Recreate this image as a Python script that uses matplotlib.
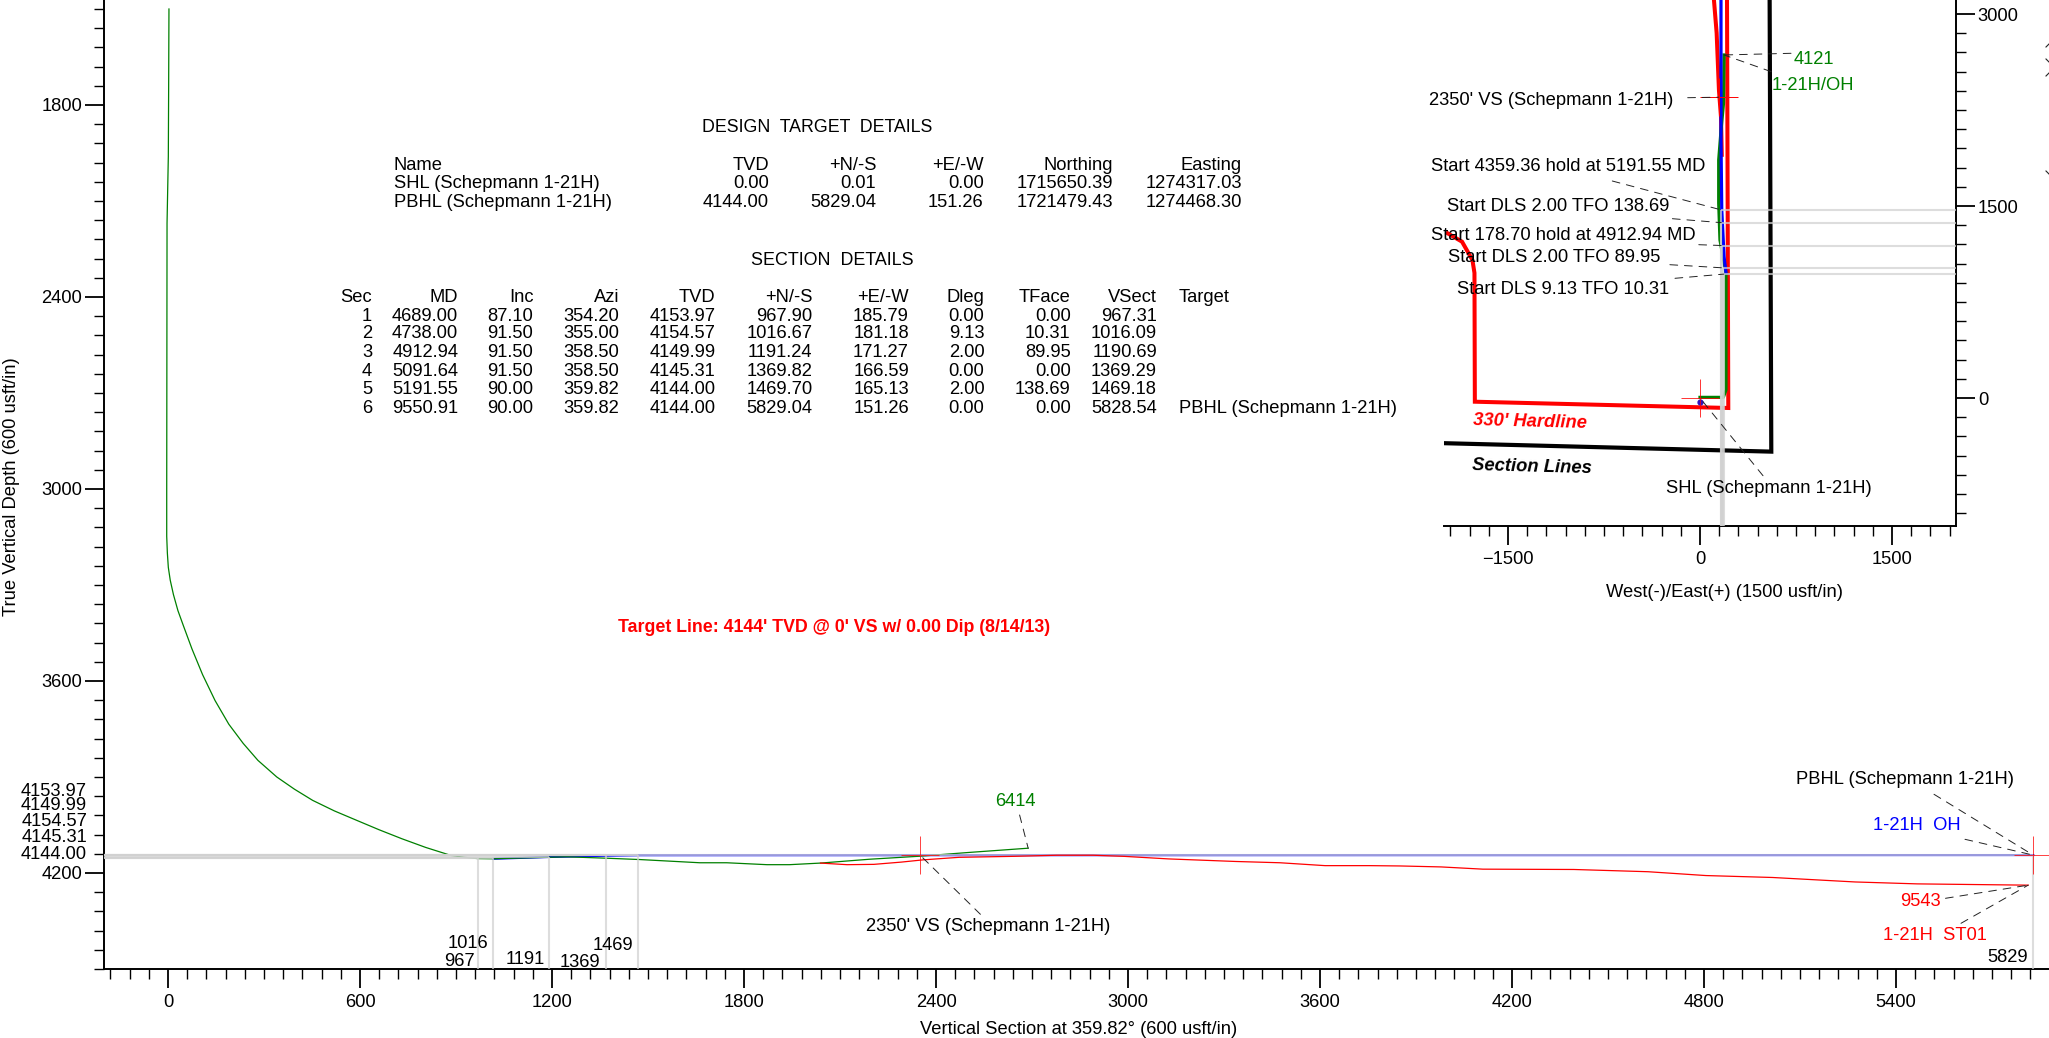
"""
  Well plan plot: vertical section with a plan view inset.
"""
import matplotlib
matplotlib.use("Agg")
import matplotlib.pyplot as plt
from matplotlib.ticker import MultipleLocator

plt.rcParams['font.family'] = ['Liberation Sans', 'DejaVu Sans']

W, H = 2049, 1038
FS = 13.2

# design targets
tgt_names = ["SHL (Schepmann 1-21H)", "PBHL (Schepmann 1-21H)"]
tgt_tvd = [0.00, 4144.00]
tgt_ns = [0.01, 5829.04]
tgt_ew = [0.00, 151.26]
tgt_north = [1715650.39, 1721479.43]
tgt_east = [1274317.03, 1274468.30]

# section table
sec_no = [1, 2, 3, 4, 5, 6]
sec_md = [4689.00, 4738.00, 4912.94, 5091.64, 5191.55, 9550.91]
sec_inc = [87.10, 91.50, 91.50, 91.50, 90.00, 90.00]
sec_azi = [354.20, 355.00, 358.50, 358.50, 359.82, 359.82]
sec_tvd = [4153.97, 4154.57, 4149.99, 4145.31, 4144.00, 4144.00]
sec_ns = [967.90, 1016.67, 1191.24, 1369.82, 1469.70, 5829.04]
sec_ew = [185.79, 181.18, 171.27, 166.59, 165.13, 151.26]
sec_dleg = [0.00, 9.13, 2.00, 0.00, 2.00, 0.00]
sec_tface = [0.00, 10.31, 89.95, 0.00, 138.69, 0.00]
sec_vsect = [967.31, 1016.09, 1190.69, 1369.29, 1469.18, 5828.54]

# vertical section curves
green_vs = [3, 2, 1, -3, -4, -4, -2, 1, 7, 17, 31, 48, 75, 108, 147, 190, 235, 281, 340, 395,
            452, 520, 591, 660, 731, 805, 884, 925, 968, 1016,
            1194, 1247, 1371, 1475, 1662, 1746, 1872, 1942, 2039, 2192, 2350, 2500, 2688]
green_tvd = [1500, 1750, 1961, 2170, 3008, 3148, 3200, 3245, 3285, 3330, 3380, 3427, 3500, 3580,
             3661, 3735, 3795, 3848, 3900, 3938, 3973, 4006, 4036, 4065, 4093, 4120, 4145,
             4151, 4155, 4155.6, 4150.6, 4149.4, 4153.8, 4158, 4168, 4168, 4174,
             4174, 4169, 4157, 4147.5, 4136, 4122.5]
red_vs = [2039, 2122, 2206, 2291, 2359, 2472, 2639, 2778, 2891, 2988, 3127, 3337, 3475,
          3616, 3755, 3850, 3978, 4109, 4393, 4625, 4806, 5014, 5272, 5466, 5813]
red_tvd = [4169, 4174, 4173, 4166, 4159, 4151, 4148, 4144.5, 4144.5, 4148, 4156, 4164,
           4168, 4177, 4177, 4178, 4181, 4188, 4189, 4196, 4208, 4214, 4228, 4234, 4238]
blue_vs = [1016, 1194, 1247, 1371, 1475, 5829]
blue_tvd = [4155.6, 4150, 4149, 4146, 4144.5, 4144]

# plan view curves
plan_green_e = [0, 182, 203, 203, 203, 156, 146, 146, 165, 184, 188]
plan_green_n = [5, 5, 62, 922, 977, 1234, 1523, 1859, 2100, 2305, 2680]
plan_blue_e = [164, 164, 170, 188, 203]
plan_blue_n = [3109, 2016, 1469, 1104, 977]
plan_red_e = [109, 130, 148, 164, 170]
plan_red_n = [3109, 2852, 2406, 2195, 1900]
hard_e = [-1972, -1859, -1778, -1762, -1759, 221, 211]
hard_n = [1287, 1221, 1078, 977, -29, -78, 3125]
lines_e = [-2000, 557, 544]
lines_n = [-353, -419, 3125]


def txt(x, y, s, ha='center', **kw):
  kw.setdefault('fontsize', FS)
  return fig.text(x / W, 1 - y / H, s, ha=ha, va='center', **kw)


def leader(ax, xy, px, py):
  ax.annotate('', xy=xy, xycoords='data', xytext=(px, H - py), textcoords='figure pixels',
              annotation_clip=False, zorder=6,
              arrowprops=dict(arrowstyle='-', lw=0.7, color='#222222', linestyle=(0, (8, 7)),
                              shrinkA=0, shrinkB=0))


def axis_style(ax):
  ax.tick_params(which='major', length=13.7, width=1.3, labelsize=FS)
  ax.tick_params(which='minor', length=7.2, width=1.0)


fig = plt.figure(figsize=(W / 100, H / 100), dpi=100)
GRAY = dict(color='#d1d1d1', alpha=0.73, lw=1.5, solid_capstyle='butt', zorder=4)

# ---------- vertical section ----------
ax = fig.add_axes([104 / W, (H - 969) / H, (W - 104) / W, 969 / H])
ax.set_xlim(-200, 5878.1)
ax.set_ylim(4500, 1471.9)
for side in ['top', 'right']:
  ax.spines[side].set_visible(False)
for side in ['left', 'bottom']:
  ax.spines[side].set_linewidth(1.4)
ax.xaxis.set_major_locator(MultipleLocator(600))
ax.xaxis.set_minor_locator(MultipleLocator(60))
ax.yaxis.set_major_locator(MultipleLocator(600))
ax.yaxis.set_minor_locator(MultipleLocator(60))
axis_style(ax)
ax.tick_params(axis='x', which='major', pad=4.5)
ax.tick_params(axis='y', which='major', pad=2)

ax.plot(blue_vs, blue_tvd, color='#0000ff', lw=1.5, zorder=2)
ax.plot(green_vs, green_tvd, color='#008000', lw=0.9, zorder=3)
ax.plot(red_vs, red_tvd, color='#ff0000', lw=0.9, zorder=5)
for v, t in zip(sec_vsect, sec_tvd):
  ax.plot([-200, v], [t, t], **GRAY)
  ax.plot([v, v], [t, 4500], **GRAY)
for p in [2350, 5828.54]:
  ax.plot(p, 4144, marker='+', ms=27, mew=0.7, color='#ff0000', alpha=0.75, zorder=5,
          clip_on=False)

leader(ax, (2350, 4144), 980.4, 914.3)
leader(ax, (green_vs[-1], green_tvd[-1]), 1019.6, 815)
leader(ax, (5828.54, 4144), 1934, 794.3)
leader(ax, (5828.54, 4144), 1965, 839.3)
leader(ax, (red_vs[-1], red_tvd[-1]), 1945.5, 898.3)
leader(ax, (red_vs[-1], red_tvd[-1]), 1961, 923.3)

# ---------- plan view ----------
inset = fig.add_axes([1444 / W, (H - 526) / H, 512 / W, 526 / H], facecolor='none', zorder=3)
inset.set_xlim(-2000, 2000)
inset.set_ylim(-1000, 3109.4)
for side in ['top', 'left']:
  inset.spines[side].set_visible(False)
for side in ['right', 'bottom']:
  inset.spines[side].set_linewidth(1.4)
inset.yaxis.tick_right()
inset.xaxis.set_major_locator(MultipleLocator(1500))
inset.xaxis.set_minor_locator(MultipleLocator(150))
inset.yaxis.set_major_locator(MultipleLocator(1500))
inset.yaxis.set_minor_locator(MultipleLocator(150))
axis_style(inset)
inset.tick_params(axis='x', which='major', pad=4.5)
inset.tick_params(axis='y', which='major', pad=2)

inset.plot(lines_e, lines_n, color='black', lw=3.0, solid_joinstyle='miter', zorder=2)
inset.plot(hard_e, hard_n, color='#ff0000', lw=2.9, solid_joinstyle='miter', zorder=2)
inset.plot(plan_red_e, plan_red_n, color='#ff0000', lw=2.9, zorder=2)
inset.plot(plan_green_e, plan_green_n, color='#008000', lw=2.3, zorder=3)
inset.plot(plan_blue_e, plan_blue_n, color='#0000ff', lw=2.3, zorder=3)
inset.plot(0, -28, marker='o', ms=3.5, color='#3010c0', zorder=3)
for e, n in zip(sec_ew[:5], sec_ns[:5]):
  inset.plot([e, 2000], [n, n], **GRAY)
  inset.plot([e, e], [n, -1000], **GRAY)
inset.plot(0, 0, marker='+', ms=27, mew=0.7, color='#ff0000', alpha=0.8, zorder=5)
inset.plot(146, 2350, marker='+', ms=27, mew=0.7, color='#ff0000', zorder=5)

leader(inset, (plan_green_e[-1], plan_green_n[-1]), 1791, 53.3)
leader(inset, (plan_green_e[-1], plan_green_n[-1]), 1771.3, 71.7)
leader(inset, (146, 2350), 1687.7, 97.7)
leader(inset, (sec_ew[4], sec_ns[4]), 1612.3, 181)
leader(inset, (sec_ew[3], sec_ns[3]), 1672.4, 218.7)
leader(inset, (sec_ew[2], sec_ns[2]), 1698.8, 244.7)
leader(inset, (sec_ew[1], sec_ns[1]), 1669.9, 264.7)
leader(inset, (sec_ew[0], sec_ns[0]), 1675, 278.3)
leader(inset, (0, 0), 1763, 475.7)

# ends of callouts cut off at the right edge
for x0, y0, x1, y1 in [(2046, 47, 2049, 44), (2046, 59, 2049, 62),
                       (2046, 76, 2049, 73), (2046, 171, 2049, 174)]:
  fig.add_artist(plt.Line2D([x0 / W, x1 / W], [1 - y0 / H, 1 - y1 / H], color='#222222', lw=0.8))

# ---------- axis labels and callouts ----------
txt(1079, 1029, "Vertical Section at 359.82° (600 usft/in)")
txt(12, 487, "True Vertical Depth (600 usft/in)", rotation=90)
txt(1724, 592.5, "West(-)/East(+) (1500 usft/in)")

for y, s in zip([791.7, 805, 821.7, 837.7, 854.3],
                ["4153.97", "4149.99", "4154.57", "4145.31", "4144.00"]):
  txt(87, y, s, ha='right')

for x, y, s in zip([467.9, 459.8, 525, 580.4, 612.5], [944, 961.3, 959, 962.3, 945],
                   ["1016", "967", "1191", "1369", "1469"]):
  txt(x, y, s)
txt(2028, 958, "5829", ha='right')

txt(1796, 779, "PBHL (Schepmann 1-21H)", ha='left')
txt(1917, 825.7, "1-21H  OH", color='#0000ff')
txt(1920.3, 901.7, "9543", color='#ff0000')
txt(1935, 935.7, "1-21H  ST01", color='#ff0000')
txt(1015.6, 801, "6414", color='#008000')
txt(988, 926.7, "2350' VS (Schepmann 1-21H)")
txt(833.7, 627, "Target Line: 4144' TVD @ 0' VS w/ 0.00 Dip (8/14/13)", color='#ff0000',
    fontweight='bold', fontsize=12.75)

txt(1814, 59, "4121", color='#008000')
txt(1813, 86, "1-21H/OH", color='#008000')
txt(1551.5, 100.5, "2350' VS (Schepmann 1-21H)")
txt(1568.2, 166.7, "Start 4359.36 hold at 5191.55 MD")
txt(1557.7, 206.7, "Start DLS 2.00 TFO 138.69")
txt(1562.9, 235, "Start 178.70 hold at 4912.94 MD")
txt(1553.8, 257, "Start DLS 2.00 TFO 89.95")
txt(1563, 289.3, "Start DLS 9.13 TFO 10.31")
txt(1769, 488.3, "SHL (Schepmann 1-21H)")
txt(1530.4, 421.7, "330' Hardline", color='#ff0000', fontweight='bold', fontstyle='italic',
    rotation=-1.5)
txt(1531.6, 467.3, "Section Lines", fontweight='bold', fontstyle='italic', rotation=-1.5)

# ---------- tables ----------
txt(816.7, 127.3, "DESIGN  TARGET  DETAILS", fontsize=12.8)
txt(393.7, 165, "Name", ha='left')
tgt_x = [769, 876.3, 983.6, 1112.7, 1241.8]
tgt_head = ["TVD", "+N/-S", "+E/-W", "Northing", "Easting"]
tgt_cols = [tgt_tvd, tgt_ns, tgt_ew, tgt_north, tgt_east]
for x, head, col in zip(tgt_x, tgt_head, tgt_cols):
  txt(x, 165, head, ha='right')
  for y, v in zip([183.3, 202.3], col):
    txt(x, y, f"{v:.2f}", ha='right')
for y, s in zip([183.3, 202.3], tgt_names):
  txt(393.7, y, s, ha='left')

txt(832, 260, "SECTION  DETAILS", fontsize=12.9)
sec_y = [316.3, 334, 352.7, 371, 390, 409]
sec_x = [458.2, 533.3, 619.5, 715.6, 812.5, 909, 984.3, 1070.6, 1156.9]
sec_head = ["MD", "Inc", "Azi", "TVD", "+N/-S", "+E/-W", "Dleg", "TFace", "VSect"]
sec_cols = [sec_md, sec_inc, sec_azi, sec_tvd, sec_ns, sec_ew, sec_dleg, sec_tface, sec_vsect]
txt(372, 297.3, "Sec", ha='right')
txt(1178.6, 297.3, "Target", ha='left')
for y, n in zip(sec_y, sec_no):
  txt(372, y, str(n), ha='right')
for x, head, col in zip(sec_x, sec_head, sec_cols):
  txt(x, 297.3, head, ha='right')
  for y, v in zip(sec_y, col):
    txt(x, y, f"{v:.2f}", ha='right')
txt(1178.6, 409, tgt_names[1], ha='left')

fig.savefig("out.png", dpi=100)
